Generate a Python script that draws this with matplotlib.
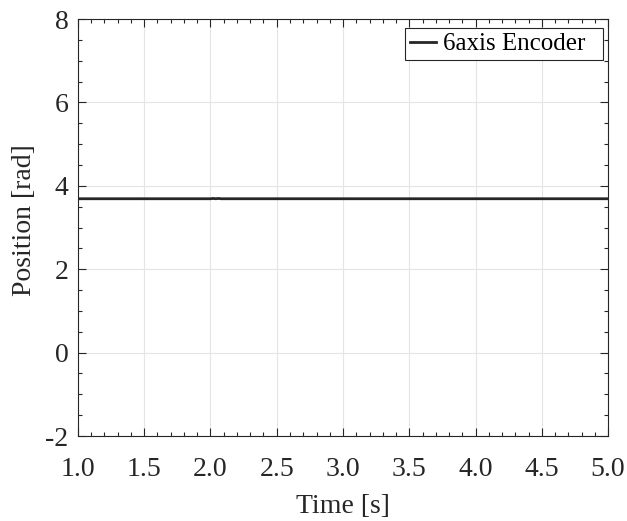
import matplotlib
matplotlib.use("Agg")
import matplotlib.pyplot as plt
from matplotlib.ticker import MultipleLocator

# Joint 6 encoder position over time
time_s = [1.0, 2.0, 2.02, 2.04, 2.06, 2.08, 2.1, 5.0]
position_rad = [3.69, 3.69, 3.697, 3.69, 3.697, 3.69, 3.69, 3.69]

plt.rcParams["font.family"] = ["Liberation Serif", "DejaVu Serif"]

fig = plt.figure(figsize=(6.27, 5.21), dpi=100)
ax = fig.add_axes([0.1244, 0.1631, 0.8453, 0.8004])

ax.plot(time_s, position_rad, color="#262626", linewidth=2.0, label="6axis Encoder  ")

ax.set_xlim(1.0, 5.0)
ax.set_ylim(-2, 8)
ax.xaxis.set_major_locator(MultipleLocator(0.5))
ax.xaxis.set_minor_locator(MultipleLocator(0.1))
ax.yaxis.set_major_locator(MultipleLocator(2))
ax.yaxis.set_minor_locator(MultipleLocator(0.5))
ax.set_xticklabels([f"{v:.1f}" for v in ax.get_xticks()])
ax.set_yticks([-2, 0, 2, 4, 6, 8])
ax.set_yticklabels(["-2", "0", "2", "4", "6", "8"])

ax.tick_params(which="both", direction="in", top=True, right=True,
               labelsize=20, colors="#262626", width=0.8)
ax.tick_params(which="major", length=6)
ax.tick_params(which="minor", length=3)
ax.tick_params(axis="x", which="major", pad=15)
ax.tick_params(axis="y", which="major", pad=7)
for s in ax.spines.values():
    s.set_color("#262626")
    s.set_linewidth(0.8)

ax.grid(True, which="major", color="#e5e5e5", linewidth=0.8)
ax.set_axisbelow(True)

ax.set_xlabel("Time [s]", fontsize=20, color="#262626", labelpad=8.5)
ax.set_ylabel("Position [rad]", fontsize=20, color="#262626", labelpad=6)
ax.yaxis.label.set_y(0.518)

leg = ax.legend(loc="upper right", bbox_to_anchor=(0.991, 0.979), fontsize=18,
                fancybox=False, edgecolor="#262626", framealpha=1,
                handlelength=1.05, handletextpad=0.3, borderpad=0.2,
                borderaxespad=0.0)
leg.get_frame().set_linewidth(0.8)

fig.savefig("out.png", dpi=100)
